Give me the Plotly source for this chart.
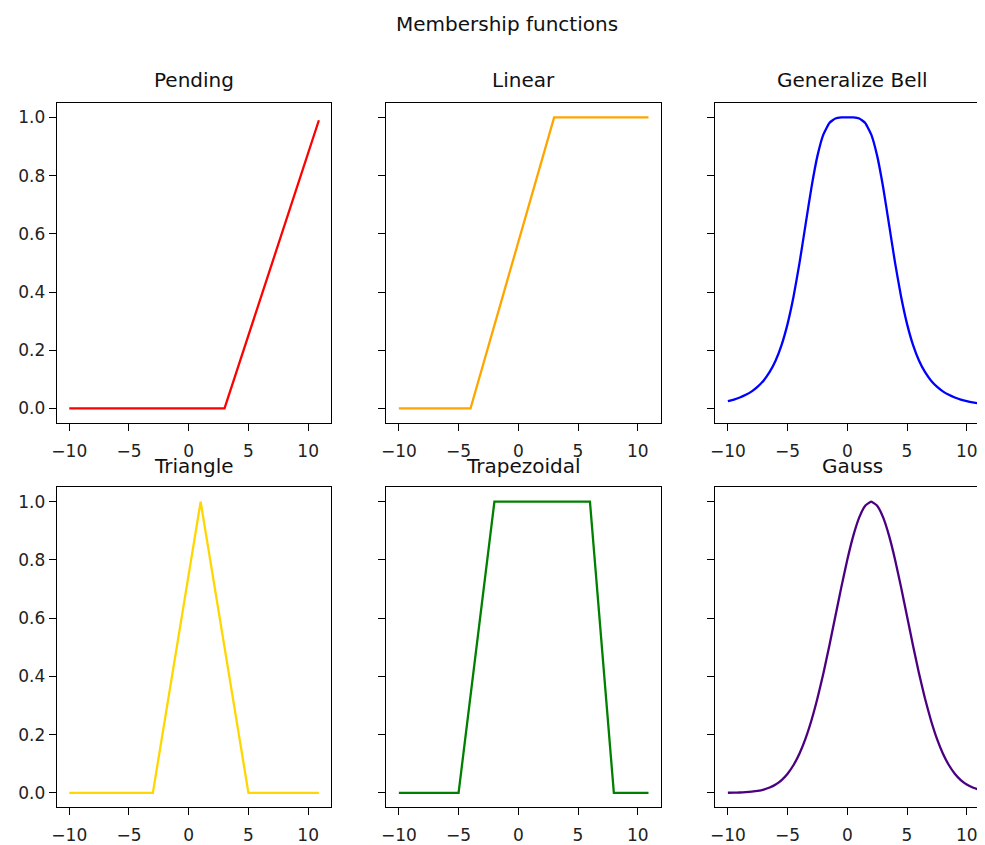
import plotly.graph_objects as go

# ---------------- data ----------------
suptitle = "Membership functions"
titles = ["Pending", "Linear", "Generalize Bell", "Triangle", "Trapezoidal", "Gauss"]
colors = ["#ff0000", "#ffa500", "#0000ff", "#ffd700", "#008000", "#4b0082"]

pending_x = [-10, 3, 10.9]
pending_y = [0, 0, 0.99]

linear_x = [-10, -4, 3, 10.9]
linear_y = [0, 0, 1, 1]

triangle_x = [-10, -3, 1, 5, 10.9]
triangle_y = [0, 0, 1, 0, 0]

trap_x = [-10, -5, -2, 6, 8, 10.9]
trap_y = [0, 0, 1, 1, 0, 0]

curve_x = [-10, -9.5, -9, -8.5, -8, -7.5, -7, -6.5, -6, -5.5, -5, -4.5, -4, -3.5,
           -3, -2.5, -2, -1.5, -1, -0.5, 0, 0.5, 1, 1.5, 2, 2.5, 3, 3.5, 4, 4.5,
           5, 5.5, 6, 6.5, 7, 7.5, 8, 8.5, 9, 9.5, 10, 10.5, 10.9]

bell_y = [0.0250, 0.0305, 0.0376, 0.0468, 0.0588, 0.0749, 0.0963, 0.1254, 0.1649,
          0.2186, 0.2906, 0.3844, 0.5000, 0.6305, 0.7596, 0.8676, 0.9412, 0.9806,
          0.9961, 0.9998, 1.0000, 0.9998, 0.9961, 0.9806, 0.9412, 0.8676, 0.7596,
          0.6305, 0.5000, 0.3844, 0.2906, 0.2186, 0.1649, 0.1254, 0.0963, 0.0749,
          0.0588, 0.0468, 0.0376, 0.0305, 0.0250, 0.0206, 0.0178]

gauss_y = [0.0003, 0.0006, 0.0012, 0.0022, 0.0039, 0.0066, 0.0111, 0.0181, 0.0286,
           0.0439, 0.0657, 0.0956, 0.1353, 0.1863, 0.2494, 0.3247, 0.4111, 0.5063,
           0.6065, 0.7066, 0.8007, 0.8825, 0.9460, 0.9862, 1.0000, 0.9862, 0.9460,
           0.8825, 0.8007, 0.7066, 0.6065, 0.5063, 0.4111, 0.3247, 0.2494, 0.1863,
           0.1353, 0.0956, 0.0657, 0.0439, 0.0286, 0.0181, 0.0123]

x_ticks = [-10, -5, 0, 5, 10]
y_ticks = [0.0, 0.2, 0.4, 0.6, 0.8, 1.0]

series = [
    (pending_x, pending_y, "linear"),
    (linear_x, linear_y, "linear"),
    (curve_x, bell_y, "spline"),
    (triangle_x, triangle_y, "linear"),
    (trap_x, trap_y, "linear"),
    (curve_x, gauss_y, "spline"),
]

# ---------------- layout geometry ----------------
OFF = 8  # page body margin
W, H = 985 - OFF, 845 - OFF
col_px = [(52, 328), (383.3, 659), (714, 985)]
row_px = [(103, 424), (488.3, 809.3)]
x_left = -11.045
px_per_unit = 276 / 22.99
y_range = [-0.05, 1.05]
FONT = "DejaVu Sans"

fig = go.Figure()
layout = dict(
    width=W, height=H,
    margin=dict(l=0, r=0, t=0, b=0),
    paper_bgcolor="white", plot_bgcolor="white",
    showlegend=False,
    font=dict(family=FONT, color="#222222"),
)
annotations = []

for i, (xs, ys, shape) in enumerate(series):
    r, c = divmod(i, 3)
    n = "" if i == 0 else str(i + 1)
    fig.add_trace(go.Scatter(
        x=xs, y=ys, mode="lines",
        line=dict(color=colors[i], width=2.3, shape=shape,
                  smoothing=0.4 if shape == "spline" else None),
        xaxis="x" + n, yaxis="y" + n, hoverinfo="skip",
    ))
    x0, x1 = col_px[c]
    y0, y1 = row_px[r]
    x_right = x_left + (x1 - x0) / px_per_unit
    layout["xaxis" + n] = dict(
        domain=[(x0 - OFF) / W, min(1.0, (x1 - OFF) / W)], anchor="y" + n,
        range=[x_left, x_right], tickvals=x_ticks,
        showgrid=False, zeroline=False,
        showline=True, linecolor="black", linewidth=1.2, mirror=True,
        ticks="outside", ticklen=7, tickcolor="black", tickwidth=1.2,
        ticklabelstandoff=5,
        tickfont=dict(family=FONT, size=17, color="#222222"),
    )
    layout["yaxis" + n] = dict(
        domain=[1 - (y1 - OFF) / H, 1 - (y0 - OFF) / H], anchor="x" + n,
        range=y_range, tickvals=y_ticks, tickformat=".1f",
        showticklabels=(c == 0),
        showgrid=False, zeroline=False,
        showline=True, linecolor="black", linewidth=1.2,
        mirror=(c != 2),
        ticks="outside", ticklen=7, tickcolor="black", tickwidth=1.2,
        tickfont=dict(family=FONT, size=17, color="#222222"),
    )
    title_y = 80 if r == 0 else 467
    annotations.append(dict(
        text=titles[i], xref="paper", yref="paper",
        x=(x0 + 138 - OFF) / W, y=1 - (title_y - OFF) / H,
        xanchor="center", yanchor="middle", showarrow=False,
        font=dict(family=FONT, size=20, color="#111111"),
    ))

annotations.append(dict(
    text=suptitle, xref="paper", yref="paper",
    x=(505 - OFF) / W, y=1 - (24 - OFF) / H, xanchor="center", yanchor="middle",
    showarrow=False, font=dict(family=FONT, size=20, color="#111111"),
))
layout["annotations"] = annotations
fig.update_layout(**layout)
fig.write_html("out.html")
